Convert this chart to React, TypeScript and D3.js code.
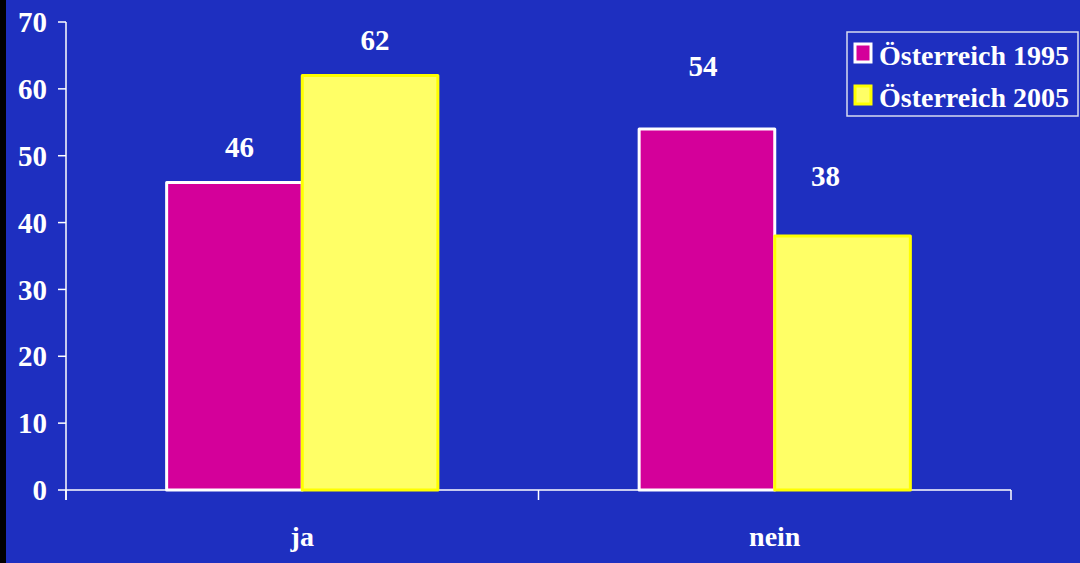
import React, { useRef, useEffect } from 'react';
import * as d3 from 'd3';

const categories = ['ja', 'nein'];
const seriesNames = ['Österreich 1995', 'Österreich 2005'];
const values1995 = [46, 54];
const values2005 = [62, 38];
const yTicks = [0, 10, 20, 30, 40, 50, 60, 70];

const W = 1080;
const H = 563;
const BG = '#1e2fc0';
const PINK = '#d4009a';
const YELLOW = '#ffff66';
const FONT = '"Liberation Serif", "Times New Roman", serif';

export default function App() {
  const svgRef = useRef<SVGSVGElement>(null);

  useEffect(() => {
    document.body.style.margin = '0';
    if (!svgRef.current) return;
    const svg = d3.select(svgRef.current);
    svg.selectAll('*').remove();

    svg.append('rect').attr('width', W).attr('height', H).attr('fill', BG);
    svg.append('rect').attr('width', 6).attr('height', H).attr('fill', '#000');

    const x0 = d3.scaleBand().domain(categories).range([66, 1011]);
    const y = d3.scaleLinear().domain([0, 70]).range([490, 22]);
    const groupW = x0.bandwidth() * 0.574;
    const x1 = d3.scaleBand().domain(seriesNames).range([0, groupW]);

    const axisColor = '#ffffff';
    const g = svg.append('g');

    // y axis
    g.append('line').attr('x1', 66).attr('x2', 66).attr('y1', y(70)).attr('y2', 500)
      .attr('stroke', axisColor).attr('stroke-width', 1.5);
    yTicks.forEach((t) => {
      g.append('line').attr('x1', 58).attr('x2', 66).attr('y1', y(t)).attr('y2', y(t))
        .attr('stroke', axisColor).attr('stroke-width', 1.5);
      g.append('text').attr('x', 47).attr('y', y(t)).attr('dy', '0.35em')
        .attr('text-anchor', 'end').attr('fill', '#fff')
        .attr('font-family', FONT).attr('font-weight', 'bold').attr('font-size', 29)
        .text(t);
    });

    // x axis
    g.append('line').attr('x1', 66).attr('x2', 1011).attr('y1', y(0)).attr('y2', y(0))
      .attr('stroke', axisColor).attr('stroke-width', 1.5);
    const xTickPos = [...categories.map((c) => x0(c)!), 1011];
    xTickPos.forEach((p) => {
      g.append('line').attr('x1', p).attr('x2', p).attr('y1', y(0)).attr('y2', 500)
        .attr('stroke', axisColor).attr('stroke-width', 1.5);
    });
    categories.forEach((c) => {
      g.append('text').attr('x', x0(c)! + x0.bandwidth() / 2).attr('y', 546)
        .attr('text-anchor', 'middle').attr('fill', '#fff')
        .attr('font-family', FONT).attr('font-weight', 'bold').attr('font-size', 28)
        .text(c);
    });

    // bars
    const series = [
      { name: seriesNames[0], values: values1995, fill: PINK, stroke: '#ffffff' },
      { name: seriesNames[1], values: values2005, fill: YELLOW, stroke: '#ffff00' },
    ];
    // label placement drifts a little per group (as in the original export)
    const labelGap: Record<string, number> = { ja: 25, nein: 50 };
    const labelShift: Record<string, number[]> = { ja: [5, 5], nein: [-4, -17] };
    series.forEach((s, si) => {
      s.values.forEach((v, i) => {
        const c = categories[i];
        const gx = x0(c)! + (x0.bandwidth() - groupW) / 2 + x1(s.name)!;
        g.append('rect')
          .attr('x', gx).attr('y', y(v))
          .attr('width', x1.bandwidth()).attr('height', y(0) - y(v))
          .attr('fill', s.fill).attr('stroke', s.stroke).attr('stroke-width', 3)
          .attr('stroke-linejoin', 'round');
        g.append('text')
          .attr('x', gx + x1.bandwidth() / 2 + labelShift[c][si])
          .attr('y', y(v) - labelGap[c] - (c === 'nein' && si === 0 ? 3 : 0))
          .attr('text-anchor', 'middle').attr('fill', '#fff')
          .attr('font-family', FONT).attr('font-weight', 'bold').attr('font-size', 29)
          .text(v);
      });
    });

    // legend
    const lg = svg.append('g');
    lg.append('rect').attr('x', 847).attr('y', 32).attr('width', 231).attr('height', 84)
      .attr('fill', 'none').attr('stroke', '#d8dcf0').attr('stroke-width', 1.5);
    series.forEach((s, i) => {
      const ly = 44 + i * 42;
      lg.append('rect').attr('x', 855).attr('y', ly).attr('width', 16).attr('height', 18)
        .attr('fill', s.fill).attr('stroke', s.stroke).attr('stroke-width', 3);
      lg.append('text').attr('x', 879).attr('y', ly + 21)
        .attr('fill', '#fff').attr('font-family', FONT).attr('font-weight', 'bold')
        .attr('font-size', 28).text(s.name);
    });
  }, []);

  return <svg ref={svgRef} width={W} height={H} style={{ display: 'block' }} />;
}
